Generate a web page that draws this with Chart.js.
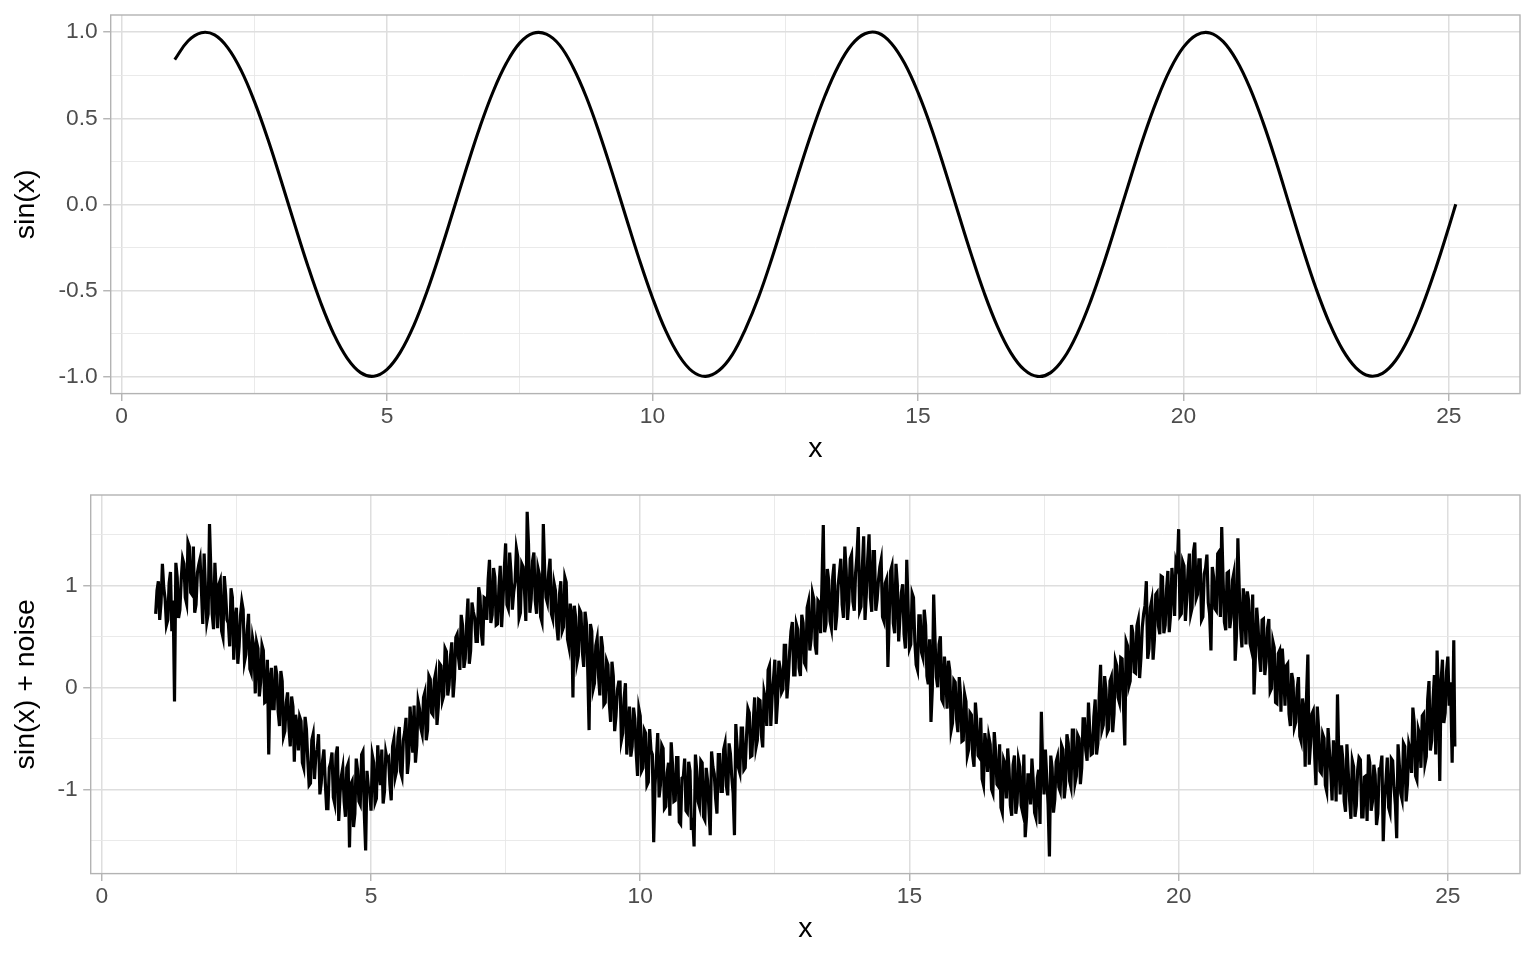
<!DOCTYPE html>
<html>
<head>
<meta charset="utf-8">
<script src="https://cdn.jsdelivr.net/npm/chart.js@4.4.1/dist/chart.umd.min.js"></script>
<style>
html, body { margin:0; padding:0; background:#fff; }
.panel { position:relative; width:1536px; height:480px; }
</style>
</head>
<body>
<div class="panel"><canvas id="top"></canvas></div>
<div class="panel"><canvas id="bottom"></canvas></div>
<script>
// top panel: sin(x)
var sinX = [1,1.25,1.5,1.75,2,2.25,2.5,2.75,3,3.25,3.5,3.75,4,4.25,4.5,4.75,5,5.25,5.5,5.75,
	6,6.25,6.5,6.75,7,7.25,7.5,7.75,8,8.25,8.5,8.75,9,9.25,9.5,9.75,10,10.25,10.5,10.75,
	11,11.25,11.5,11.75,12,12.25,12.5,12.75,13,13.25,13.5,13.75,14,14.25,14.5,14.75,15,15.25,15.5,15.75,
	16,16.25,16.5,16.75,17,17.25,17.5,17.75,18,18.25,18.5,18.75,19,19.25,19.5,19.75,20,20.25,20.5,20.75,
	21,21.25,21.5,21.75,22,22.25,22.5,22.75,23,23.25,23.5,23.75,24,24.25,24.5,24.75,25,25.13];
var sinY = [0.841,0.949,0.997,0.984,0.909,0.778,0.598,0.382,0.141,-0.108,-0.351,-0.572,-0.757,-0.895,-0.978,-0.999,-0.959,-0.859,-0.706,-0.508,
	-0.279,-0.033,0.215,0.451,0.657,0.822,0.938,0.994,0.989,0.925,0.798,0.625,0.412,0.174,-0.075,-0.320,-0.544,-0.736,-0.880,-0.971,
	-1.000,-0.966,-0.875,-0.725,-0.537,-0.312,-0.066,0.183,0.420,0.632,0.804,0.927,0.991,0.995,0.935,0.818,0.650,0.444,0.207,-0.042,
	-0.288,-0.517,-0.712,-0.863,-0.961,-1.000,-0.978,-0.893,-0.751,-0.564,-0.342,-0.099,0.150,0.391,0.605,0.784,0.913,0.985,0.996,0.945,
	0.837,0.678,0.476,0.243,-0.009,-0.259,-0.491,-0.690,-0.846,-0.950,-0.997,-0.982,-0.906,-0.773,-0.592,-0.374,-0.132,0.000];

// bottom panel: sin(x) + noise, read in two interleaved passes
var noiseX = [
	1,1.05,1.1,1.15,1.2,1.25,1.3,1.35,1.4,1.45,1.5,1.55,1.6,1.65,1.7,1.75,1.8,1.85,1.9,1.95,
	2,2.05,2.1,2.15,2.2,2.25,2.3,2.35,2.4,2.45,2.5,2.55,2.6,2.65,2.7,2.75,2.8,2.85,2.9,2.95,
	3,3.05,3.1,3.15,3.2,3.25,3.3,3.35,3.4,3.45,3.5,3.55,3.6,3.65,3.7,3.75,3.8,3.85,3.9,3.95,
	4,4.05,4.1,4.15,4.2,4.25,4.3,4.35,4.4,4.45,4.5,4.55,4.6,4.65,4.7,4.75,4.8,4.85,4.9,4.95,
	5,5.05,5.1,5.15,5.2,5.25,5.3,5.35,5.4,5.45,5.5,5.55,5.6,5.65,5.7,5.75,5.8,5.85,5.9,5.95,
	6,6.05,6.1,6.15,6.2,6.25,6.3,6.35,6.4,6.45,6.5,6.55,6.6,6.65,6.7,6.75,6.8,6.85,6.9,6.95,
	7,7.05,7.1,7.15,7.2,7.25,7.3,7.35,7.4,7.45,7.5,7.55,7.6,7.65,7.7,7.75,7.8,7.85,7.9,7.95,
	8,8.05,8.1,8.15,8.2,8.25,8.3,8.35,8.4,8.45,8.5,8.55,8.6,8.65,8.7,8.75,8.8,8.85,8.9,8.95,
	9,9.05,9.1,9.15,9.2,9.25,9.3,9.35,9.4,9.45,9.5,9.55,9.6,9.65,9.7,9.75,9.8,9.85,9.9,9.95,
	10,10.05,10.1,10.15,10.2,10.25,10.3,10.35,10.4,10.45,10.5,10.55,10.6,10.65,10.7,10.75,10.8,10.85,10.9,10.95,
	11,11.05,11.1,11.15,11.2,11.25,11.3,11.35,11.4,11.45,11.5,11.55,11.6,11.65,11.7,11.75,11.8,11.85,11.9,11.95,
	12,12.05,12.1,12.15,12.2,12.25,12.3,12.35,12.4,12.45,12.5,12.55,12.6,12.65,12.7,12.75,12.8,12.85,12.9,12.95,
	13,13.05,13.1,13.15,13.2,13.25,13.3,13.35,13.4,13.45,13.5,13.55,13.6,13.65,13.7,13.75,13.8,13.85,13.9,13.95,
	14,14.05,14.1,14.15,14.2,14.25,14.3,14.35,14.4,14.45,14.5,14.55,14.6,14.65,14.7,14.75,14.8,14.85,14.9,14.95,
	15,15.05,15.1,15.15,15.2,15.25,15.3,15.35,15.4,15.45,15.5,15.55,15.6,15.65,15.7,15.75,15.8,15.85,15.9,15.95,
	16,16.05,16.1,16.15,16.2,16.25,16.3,16.35,16.4,16.45,16.5,16.55,16.6,16.65,16.7,16.75,16.8,16.85,16.9,16.95,
	17,17.05,17.1,17.15,17.2,17.25,17.3,17.35,17.4,17.45,17.5,17.55,17.6,17.65,17.7,17.75,17.8,17.85,17.9,17.95,
	18,18.05,18.1,18.15,18.2,18.25,18.3,18.35,18.4,18.45,18.5,18.55,18.6,18.65,18.7,18.75,18.8,18.85,18.9,18.95,
	19,19.05,19.1,19.15,19.2,19.25,19.3,19.35,19.4,19.45,19.5,19.55,19.6,19.65,19.7,19.75,19.8,19.85,19.9,19.95,
	20,20.05,20.1,20.15,20.2,20.25,20.3,20.35,20.4,20.45,20.5,20.55,20.6,20.65,20.7,20.75,20.8,20.85,20.9,20.95,
	21,21.05,21.1,21.15,21.2,21.25,21.3,21.35,21.4,21.45,21.5,21.55,21.6,21.65,21.7,21.75,21.8,21.85,21.9,21.95,
	22,22.05,22.1,22.15,22.2,22.25,22.3,22.35,22.4,22.45,22.5,22.55,22.6,22.65,22.7,22.75,22.8,22.85,22.9,22.95,
	23,23.05,23.1,23.15,23.2,23.25,23.3,23.35,23.4,23.45,23.5,23.55,23.6,23.65,23.7,23.75,23.8,23.85,23.9,23.95,
	24,24.05,24.1,24.15,24.2,24.25,24.3,24.35,24.4,24.45,24.5,24.55,24.6,24.65,24.7,24.75,24.8,24.85,24.9,24.95,
	25,25.05,25.08,25.11,25.13];
var noiseY = [
	0.72,1.04,0.83,0.98,0.61,1.02,0.55,-0.14,1.08,0.76,1.26,0.88,1.42,0.93,1.38,0.81,1.20,0.95,1.31,0.64,
	1.60,0.72,1.22,0.58,1.05,0.49,0.91,0.63,0.97,0.27,0.78,0.40,0.84,0.25,0.55,0.18,0.48,-0.06,0.38,0.05,
	0.36,-0.14,-0.66,0.19,-0.21,0.12,-0.38,0.06,-0.43,-0.05,-0.58,-0.19,-0.27,-0.62,-0.33,-0.79,-0.41,-0.96,-0.52,-0.90,
	-0.61,-1.05,-0.72,-0.93,-1.19,-0.74,-1.08,-0.66,-1.31,-0.87,-1.12,-0.79,-1.57,-0.92,-1.24,-0.81,-1.15,-0.63,-1.60,-0.98,
	-1.21,-0.74,-1.09,-0.82,-0.61,-1.02,-0.71,-0.95,-0.58,-0.88,-0.49,-0.83,-0.52,-0.30,-0.71,-0.44,-0.18,-0.57,-0.21,-0.46,
	-0.05,-0.42,0.08,-0.27,0.14,-0.19,0.21,-0.08,0.35,0.02,0.44,0.09,0.52,0.17,0.61,0.28,0.87,0.36,0.74,0.45,
	0.98,0.52,0.88,0.66,1.25,0.71,1.08,0.62,1.19,0.84,1.41,0.77,1.12,0.93,1.36,0.68,1.21,0.95,1.72,0.73,
	1.24,0.85,1.17,0.69,1.60,0.88,1.13,0.72,1.02,0.60,0.91,0.55,1.08,0.47,0.82,-0.10,0.69,0.31,0.73,0.20,
	0.63,-0.42,0.55,0.04,0.48,-0.08,0.39,-0.15,0.22,-0.34,0.11,-0.28,0.05,-0.52,-0.11,-0.66,-0.19,-0.58,-0.31,-0.87,
	-0.28,-0.79,-0.45,-0.93,-0.62,-1.52,-0.71,-1.08,-0.57,-1.19,-0.84,-1.26,-0.76,-1.11,-0.69,-1.34,-0.88,-1.21,-0.73,-1.40,
	-1.56,-0.82,-1.17,-0.74,-1.30,-0.91,-1.45,-0.78,-1.09,-0.66,-1.02,-0.61,-0.97,-0.55,-0.88,-1.45,-0.58,-0.84,-0.40,-0.79,
	-0.21,-0.68,-0.33,-0.59,-0.12,-0.47,-0.05,-0.38,0.21,-0.09,0.27,-0.14,0.18,-0.02,0.41,0.08,0.55,0.12,0.62,0.19,
	0.71,0.24,0.78,0.36,0.92,0.41,0.85,0.53,1.59,0.62,1.05,0.58,1.21,0.70,1.12,0.81,1.38,0.66,1.26,0.84,
	1.12,1.57,0.79,1.48,0.92,1.50,0.74,1.33,0.86,1.18,0.69,1.02,0.20,1.14,0.63,1.21,0.45,0.93,0.52,1.25,
	0.38,0.92,0.45,0.17,0.70,0.29,0.61,0.03,-0.34,0.91,0.10,0.42,-0.12,0.30,-0.21,0.16,-0.35,0.05,-0.44,-0.08,
	-0.52,-0.14,-0.61,-0.27,-0.78,-0.33,-0.69,-0.90,-0.45,-0.83,-0.56,-1.04,-0.62,-0.97,-1.18,-0.71,-1.09,-0.80,-1.26,-0.67,
	-1.13,-0.78,-1.22,-1.47,-0.86,-1.15,-0.92,-1.28,-0.81,-0.24,-1.05,-0.88,-1.66,-0.79,-1.10,-0.68,-1.02,-0.61,-0.95,-0.55,
	-0.98,-0.42,-0.87,-0.50,-0.79,-0.31,-0.72,-0.44,-0.65,-0.12,-0.55,0.22,-0.37,-0.02,-0.41,0.10,-0.26,0.21,-0.15,0.28,
	-0.57,0.41,0.06,0.53,0.14,0.66,0.29,0.72,1.04,0.38,0.85,0.47,0.93,0.52,1.08,0.61,1.14,0.71,0.97,1.23,
	1.55,0.72,1.19,0.86,1.31,0.78,1.42,0.91,1.25,0.69,1.17,0.83,0.36,1.08,0.75,1.33,1.57,0.64,1.12,0.58,
	1.05,0.26,1.46,0.59,0.97,0.42,0.85,0.37,-0.07,0.78,0.30,0.66,0.12,0.58,-0.04,0.45,-0.15,0.33,-0.24,0.17,
	0.21,-0.26,0.14,-0.39,-0.02,-0.48,-0.11,-0.78,0.32,-0.55,-0.23,-0.96,-0.41,-0.84,-0.50,-1.02,-0.62,-1.11,-0.71,-0.07,
	-1.05,-0.71,-1.22,-0.83,-1.29,-0.78,-1.16,-0.69,-1.27,-0.88,-1.31,-0.74,-1.12,-0.86,-1.24,-0.79,-1.51,-0.92,-1.18,-0.70,
	-0.98,-1.48,-0.77,-1.10,-0.58,-0.95,-0.62,-0.20,-0.87,-0.41,-0.79,-0.26,-0.68,0.06,-0.52,0.12,0.36,-0.92,0.27,-0.25,
	0.30,0.05,-0.74,0.46,-0.58];
var noiseXMid = [
	1.025,1.075,1.125,1.175,1.225,1.275,1.325,1.375,1.425,1.475,1.525,1.575,1.625,1.675,1.725,1.775,1.825,1.875,1.925,1.975,
	2.025,2.075,2.125,2.175,2.225,2.275,2.325,2.375,2.425,2.475,2.525,2.575,2.625,2.675,2.725,2.775,2.825,2.875,2.925,2.975,
	3.025,3.075,3.125,3.175,3.225,3.275,3.325,3.375,3.425,3.475,3.525,3.575,3.625,3.675,3.725,3.775,3.825,3.875,3.925,3.975,
	4.025,4.075,4.125,4.175,4.225,4.275,4.325,4.375,4.425,4.475,4.525,4.575,4.625,4.675,4.725,4.775,4.825,4.875,4.925,4.975,
	5.025,5.075,5.125,5.175,5.225,5.275,5.325,5.375,5.425,5.475,5.525,5.575,5.625,5.675,5.725,5.775,5.825,5.875,5.925,5.975,
	6.025,6.075,6.125,6.175,6.225,6.275,6.325,6.375,6.425,6.475,6.525,6.575,6.625,6.675,6.725,6.775,6.825,6.875,6.925,6.975,
	7.025,7.075,7.125,7.175,7.225,7.275,7.325,7.375,7.425,7.475,7.525,7.575,7.625,7.675,7.725,7.775,7.825,7.875,7.925,7.975,
	8.025,8.075,8.125,8.175,8.225,8.275,8.325,8.375,8.425,8.475,8.525,8.575,8.625,8.675,8.725,8.775,8.825,8.875,8.925,8.975,
	9.025,9.075,9.125,9.175,9.225,9.275,9.325,9.375,9.425,9.475,9.525,9.575,9.625,9.675,9.725,9.775,9.825,9.875,9.925,9.975,
	10.025,10.075,10.125,10.175,10.225,10.275,10.325,10.375,10.425,10.475,10.525,10.575,10.625,10.675,10.725,10.775,10.825,10.875,10.925,10.975,
	11.025,11.075,11.125,11.175,11.225,11.275,11.325,11.375,11.425,11.475,11.525,11.575,11.625,11.675,11.725,11.775,11.825,11.875,11.925,11.975,
	12.025,12.075,12.125,12.175,12.225,12.275,12.325,12.375,12.425,12.475,12.525,12.575,12.625,12.675,12.725,12.775,12.825,12.875,12.925,12.975,
	13.025,13.075,13.125,13.175,13.225,13.275,13.325,13.375,13.425,13.475,13.525,13.575,13.625,13.675,13.725,13.775,13.825,13.875,13.925,13.975,
	14.025,14.075,14.125,14.175,14.225,14.275,14.325,14.375,14.425,14.475,14.525,14.575,14.625,14.675,14.725,14.775,14.825,14.875,14.925,14.975,
	15.025,15.075,15.125,15.175,15.225,15.275,15.325,15.375,15.425,15.475,15.525,15.575,15.625,15.675,15.725,15.775,15.825,15.875,15.925,15.975,
	16.025,16.075,16.125,16.175,16.225,16.275,16.325,16.375,16.425,16.475,16.525,16.575,16.625,16.675,16.725,16.775,16.825,16.875,16.925,16.975,
	17.025,17.075,17.125,17.175,17.225,17.275,17.325,17.375,17.425,17.475,17.525,17.575,17.625,17.675,17.725,17.775,17.825,17.875,17.925,17.975,
	18.025,18.075,18.125,18.175,18.225,18.275,18.325,18.375,18.425,18.475,18.525,18.575,18.625,18.675,18.725,18.775,18.825,18.875,18.925,18.975,
	19.025,19.075,19.125,19.175,19.225,19.275,19.325,19.375,19.425,19.475,19.525,19.575,19.625,19.675,19.725,19.775,19.825,19.875,19.925,19.975,
	20.025,20.075,20.125,20.175,20.225,20.275,20.325,20.375,20.425,20.475,20.525,20.575,20.625,20.675,20.725,20.775,20.825,20.875,20.925,20.975,
	21.025,21.075,21.125,21.175,21.225,21.275,21.325,21.375,21.425,21.475,21.525,21.575,21.625,21.675,21.725,21.775,21.825,21.875,21.925,21.975,
	22.025,22.075,22.125,22.175,22.225,22.275,22.325,22.375,22.425,22.475,22.525,22.575,22.625,22.675,22.725,22.775,22.825,22.875,22.925,22.975,
	23.025,23.075,23.125,23.175,23.225,23.275,23.325,23.375,23.425,23.475,23.525,23.575,23.625,23.675,23.725,23.775,23.825,23.875,23.925,23.975,
	24.025,24.075,24.125,24.175,24.225,24.275,24.325,24.375,24.425,24.475,24.525,24.575,24.625,24.675,24.725,24.775,24.825,24.875,24.925,24.975,
	25.025];
var noiseYMid = [
	0.95,0.66,1.21,0.87,0.66,1.13,0.85,1.22,0.68,1.06,1.21,0.82,1.38,0.91,0.73,1.12,1.26,0.62,0.96,0.72,
	1.15,0.57,0.93,1.01,0.55,1.09,0.66,0.40,0.88,0.66,0.23,0.70,0.76,0.32,0.72,0.14,0.40,0.44,-0.09,0.41,
	-0.15,0.27,0.07,-0.21,0.21,-0.24,0.16,-0.48,-0.15,-0.39,-0.09,-0.73,-0.37,-0.29,-0.74,-0.29,-0.71,-0.94,-0.46,-0.67,
	-0.46,-0.94,-0.61,-1.19,-0.79,-0.64,-1.14,-0.58,-1.04,-0.79,-1.27,-0.75,-0.95,-1.37,-0.70,-1.12,-0.66,-1.24,-0.82,-1.01,
	-0.67,-1.13,-0.57,-0.96,-1.14,-0.64,-0.69,-1.11,-0.51,-0.82,-0.39,-0.88,-0.44,-0.85,-0.19,-0.64,-0.74,-0.14,-0.40,-0.10,
	-0.52,0.11,-0.25,0.07,-0.37,0.23,-0.13,0.38,-0.08,0.30,-0.10,0.49,0.29,0.71,0.19,0.62,0.23,0.83,0.68,0.45,
	0.89,0.41,0.87,1.05,0.63,1.17,0.61,0.97,0.59,1.16,0.81,1.32,0.76,1.03,1.28,0.73,1.18,0.65,1.40,0.87,
	1.32,0.72,1.11,0.64,1.15,0.83,1.26,0.67,0.95,0.46,1.04,0.59,1.03,0.40,0.71,0.80,0.24,0.76,0.35,0.74,
	0.17,0.62,-0.02,0.41,0.11,0.50,-0.17,0.26,-0.15,0.25,-0.43,-0.03,0.05,-0.45,0.04,-0.42,-0.68,-0.20,-0.64,-0.21,
	-0.82,-0.42,-0.96,-0.41,-0.66,-0.96,-0.45,-0.96,-0.60,-1.17,-0.74,-0.54,-1.12,-0.69,-1.32,-0.89,-0.70,-1.23,-0.82,-1.28,
	-0.66,-1.12,-0.72,-1.27,-0.79,-1.19,-0.63,-0.85,-1.24,-0.66,-1.02,-0.55,-1.06,-0.65,-1.04,-0.36,-0.79,-0.40,-0.81,-0.47,
	-0.25,-0.67,-0.10,-0.52,-0.13,-0.59,-0.12,0.17,-0.38,0.08,-0.36,0.26,-0.05,0.41,-0.11,0.35,0.64,0.12,0.57,0.11,
	0.63,0.21,0.84,0.48,0.86,0.32,0.83,1.01,0.54,1.16,0.65,1.08,0.56,1.00,1.26,0.68,1.15,0.84,1.30,0.75,
	1.29,0.75,1.18,0.66,1.26,0.88,1.33,0.75,1.05,1.25,0.65,1.06,0.69,1.19,0.53,1.01,0.70,1.01,0.38,0.79,
	0.42,0.88,0.22,0.70,0.34,0.76,0.11,0.47,-0.02,0.47,0.00,0.50,-0.15,0.11,0.26,-0.42,0.07,-0.31,0.10,-0.53,
	-0.07,-0.67,-0.25,-0.67,-0.15,-0.67,-0.30,-0.96,-0.57,-0.49,-1.00,-0.44,-0.95,-0.56,-1.23,-0.75,-0.60,-1.16,-0.76,-1.24,
	-0.71,-1.16,-0.66,-1.27,-0.86,-0.70,-1.23,-0.89,-1.34,-0.76,-0.61,-1.15,-0.67,-1.23,-0.73,-0.98,-0.57,-1.09,-0.46,-0.92,
	-0.42,-0.94,-0.47,-0.95,-0.31,-0.62,-0.15,-0.66,-0.29,-0.66,-0.08,-0.42,0.11,-0.44,0.06,-0.44,0.26,-0.10,0.29,-0.18,
	0.45,0.01,0.61,0.15,0.60,0.09,0.59,0.80,0.28,0.78,0.27,0.91,0.60,1.09,0.53,0.96,0.54,1.17,0.70,1.18,
	0.70,1.23,0.65,1.15,0.72,1.33,0.87,1.25,0.66,1.11,1.30,0.72,1.18,0.77,1.31,0.69,1.06,0.56,1.13,0.69,
	1.12,0.52,0.97,0.39,0.84,0.94,0.43,0.91,0.29,0.60,0.15,0.67,0.25,0.67,-0.01,0.39,-0.16,0.36,0.38,-0.18,
	0.23,-0.38,0.06,-0.34,0.10,-0.53,-0.21,-0.09,-0.76,-0.26,-0.65,-0.19,-0.82,-0.46,-0.96,-0.40,-0.83,-0.52,-1.12,-0.69,
	-0.57,-1.12,-0.56,-1.11,-0.72,-1.27,-0.81,-0.71,-1.27,-0.87,-0.66,-1.21,-0.76,-1.35,-0.80,-0.67,-1.10,-0.69,-1.23,-0.72,
	-1.15,-0.56,-1.04,-0.55,-1.12,-0.56,-0.84,-0.34,-0.91,-0.46,-0.28,-0.75,-0.12,-0.62,-0.12,-0.66,-0.07,0.07,-0.35,0.15,
	-0.18];

// ticks
var xMajor = [0,5,10,15,20,25];
var xMinor = [2.5,7.5,12.5,17.5,22.5];
var topYMajor = [-1,-0.5,0,0.5,1];
var topYMinor = [-0.75,-0.25,0.25,0.75];
var botYMajor = [-1,0,1];
var botYMinor = [-1.5,-0.5,0.5,1.5];

var FONT = '"Liberation Sans", Arial, Helvetica, sans-serif';

var toPoints = function(xs, ys) {
	return xs.map(function(x, i) { return {x:x, y:ys[i]}; });
};

var isMajor = function(list, c) {
	return c.tick && list.indexOf(c.tick.value) >= 0;
};

var gridFor = function(major) {
	return {
		color:function(c) { return isMajor(major, c) ? '#dedede' : '#e8e8e8'; },
		lineWidth:function(c) { return isMajor(major, c) ? 1.5 : 0.9; },
		tickColor:function(c) { return isMajor(major, c) ? '#b3b3b3' : 'rgba(0,0,0,0)'; },
		tickWidth:1.4,
		tickLength:7.5,
		drawTicks:true
	};
};

var setTicks = function(major, minor) {
	return function(scale) {
		scale.ticks = major.concat(minor).sort(function(a, b) { return a - b; })
			.map(function(v) { return {value:v}; });
	};
};

var panelBorder = {
	id:'panelBorder',
	afterDatasetsDraw:function(chart) {
		var a = chart.chartArea, c = chart.ctx;
		c.save();
		c.strokeStyle = '#b3b3b3';
		c.lineWidth = 1.4;
		c.strokeRect(a.left, a.top, a.right - a.left, a.bottom - a.top);
		c.restore();
	}
};

var buildChart = function(p) {
	return new Chart(document.getElementById(p.id), {
		type:'line',
		data:{datasets:[{data:p.pts, borderColor:'#000', borderWidth:p.lineWidth, pointRadius:0, tension:p.tension, fill:false}]},
		options:{
			responsive:true,
			maintainAspectRatio:false,
			animation:false,
			layout:{padding:{left:0, right:16, top:15, bottom:0}},
			plugins:{legend:{display:false}, tooltip:{enabled:false}},
			scales:{
				x:{
					type:'linear', min:-0.2066, max:26.34,
					afterBuildTicks:setTicks(xMajor, xMinor),
					afterFit:function(s) { s.height = 86.4; s.paddingLeft = 0; s.paddingRight = 0; },
					ticks:{
						autoSkip:false, maxRotation:0, padding:2.4, color:'#4d4d4d',
						font:{family:FONT, size:22.8},
						callback:function(v) { return xMajor.indexOf(v) >= 0 ? String(v) : ''; }
					},
					grid:gridFor(xMajor),
					border:{display:false},
					title:{display:true, text:'x', color:'#000', font:{family:FONT, size:28.5}, padding:{top:0, bottom:13.5}}
				},
				y:{
					type:'linear', min:p.yMin, max:p.yMax,
					afterBuildTicks:setTicks(p.yMajor, p.yMinor),
					afterFit:function(s) { s.width = p.yWidth; s.paddingTop = 0; s.paddingBottom = 0; },
					ticks:{
						autoSkip:false, padding:5.5, color:'#4d4d4d',
						font:{family:FONT, size:22.8},
						callback:function(v) { return p.yMajor.indexOf(v) >= 0 ? p.fmt(v) : ''; }
					},
					grid:gridFor(p.yMajor),
					border:{display:false},
					title:{display:true, text:p.yTitle, color:'#000', font:{family:FONT, size:28.5}, padding:{top:9, bottom:0}}
				}
			}
		},
		plugins:[panelBorder]
	});
};

buildChart({
	id:'top', pts:toPoints(sinX, sinY), tension:0.4, lineWidth:3.1,
	yMajor:topYMajor, yMinor:topYMinor, yMin:-1.1, yMax:1.1, yWidth:110.7,
	yTitle:'sin(x)', fmt:function(v) { return v.toFixed(1); }
});

var noisePts = toPoints(noiseX, noiseY).concat(toPoints(noiseXMid, noiseYMid))
	.sort(function(a, b) { return a.x - b.x; });

buildChart({
	id:'bottom', pts:noisePts, tension:0, lineWidth:3.2,
	yMajor:botYMajor, yMinor:botYMinor, yMin:-1.827, yMax:1.885, yWidth:90.7,
	yTitle:'sin(x) + noise', fmt:function(v) { return String(v); }
});
</script>
</body>
</html>
